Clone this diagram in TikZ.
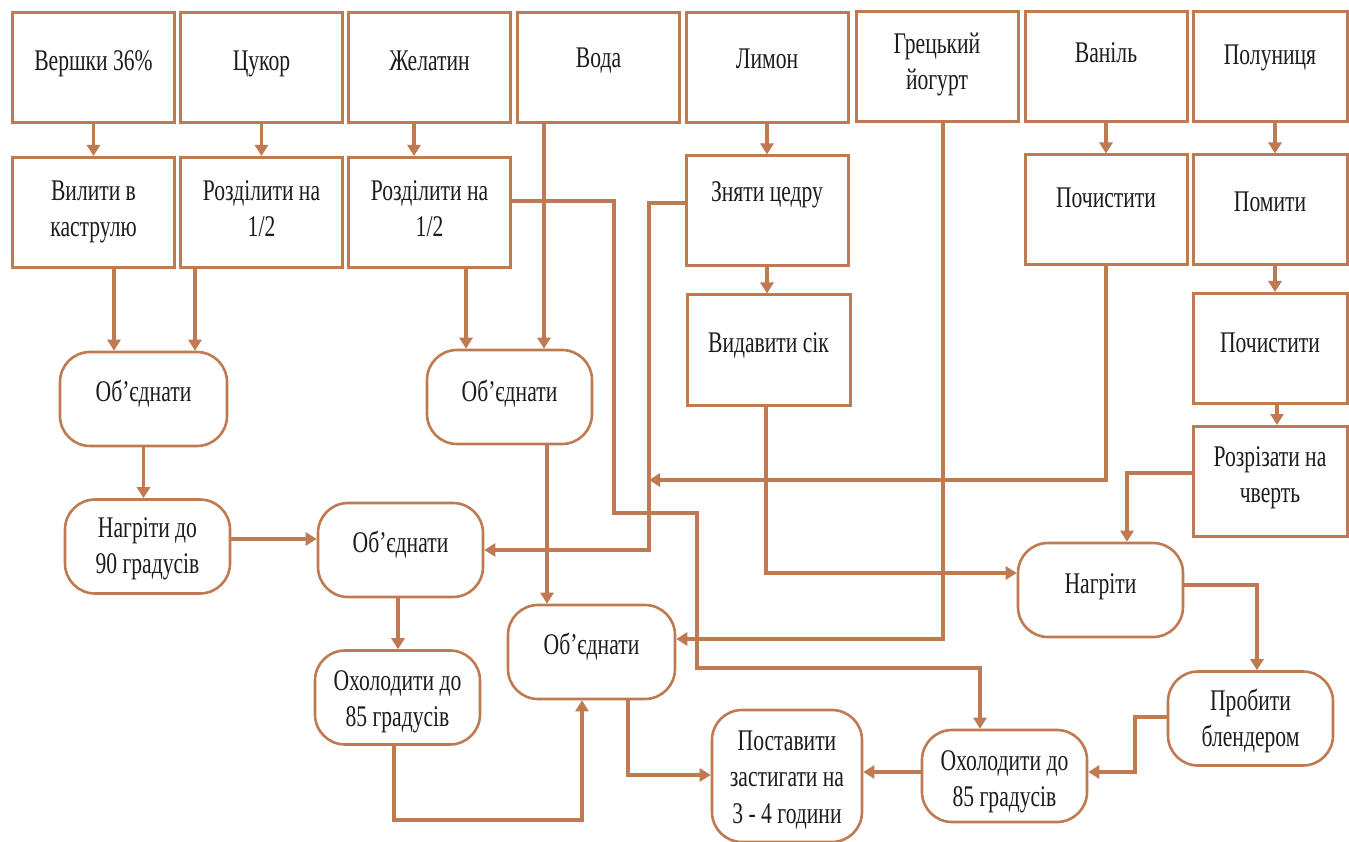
\documentclass[tikz,border=0pt]{standalone}
\usepackage{fontspec}
\setmainfont{Liberation Serif}[FakeStretch=0.72]
\usetikzlibrary{arrows.meta}
\definecolor{ln}{RGB}{192,122,82}
\definecolor{tx}{RGB}{28,28,28}
\newcommand{\tfont}{\fontsize{30}{36.5}\selectfont}
\begin{document}
\begin{tikzpicture}[x=1pt,y=-1pt,
  box/.style={draw=ln, line width=3pt, minimum width=162pt, minimum height=110pt, inner sep=0pt},
  rbox/.style={draw=ln, line width=2.6pt, rounded corners=30pt, minimum width=165pt, minimum height=94pt, inner sep=0pt},
  lbl/.style={anchor=north, inner sep=0pt, align=center, font=\tfont, text=tx},
  con/.style={draw=ln, line width=3.4pt, -{Triangle[length=11pt,width=13pt]}},
  thk/.style={con, line width=4.6pt}]
\useasboundingbox (0,0) rectangle (1349,842);
\fill[white] (0,0) rectangle (1349,842);
% top row
\node[box] (t1) at (93.5,68) {};
\node[box] (t2) at (261.5,68) {};
\node[box] (t3) at (429.5,68) {};
\node[box] (t4) at (598.5,68) {};
\node[box] (t5) at (767,68) {};
\node[box] (t6) at (937,67) {};
\node[box] (t7) at (1106,67) {};
\node[box, minimum width=154pt] (t8) at (1270,67) {};
% second row
\node[box] (s1) at (93.5,212.5) {};
\node[box] (s2) at (261.5,212.5) {};
\node[box] (s3) at (429.5,212.5) {};
\node[box] (s5) at (767,211) {};
\node[box] (s7) at (1106,210) {};
\node[box, minimum width=154pt] (s8) at (1270,210) {};
% third row
\node[box, minimum width=163pt] (v) at (768.5,350) {};
\node[box, minimum width=154pt] (p2) at (1270,348.5) {};
\node[box, minimum width=154pt] (r) at (1270,481.5) {};
% rounded
\node[rbox, minimum width=167pt] (o1) at (143.5,399) {};
\node[rbox] (n90) at (147.5,546.5) {};
\node[rbox] (o2) at (400.5,550) {};
\node[rbox] (ow) at (509.5,397) {};
\node[rbox] (hl) at (397.5,697.5) {};
\node[rbox, minimum width=167pt] (ob) at (591.5,652) {};
\node[rbox] (nr) at (1100.5,590) {};
\node[rbox] (pb) at (1250.5,718.5) {};
\node[rbox, minimum height=92pt] (hr) at (1004.5,776) {};
\node[rbox, minimum width=150pt, minimum height=132pt] (ps) at (787,776) {};
% labels
\node[lbl] (t1l) at (93.5,44.5) {\strut Вершки 36\%};
\node[lbl] (t2l) at (261.5,44.5) {\strut Цукор};
\node[lbl] (t3l) at (429.5,44.5) {\strut Желатин};
\node[lbl] (t4l) at (598.5,41.5) {\strut Вода};
\node[lbl] (t5l) at (767,42.5) {\strut Лимон};
\node[lbl] (t6l) at (937,27.5) {\strut Грецький\\йогурт};
\node[lbl] (t7l) at (1106,36.5) {\strut Ваніль};
\node[lbl] (t8l) at (1270,38.5) {\strut Полуниця};
\node[lbl] (s1l) at (93.5,174.5) {\strut Вилити в\\каструлю};
\node[lbl] (s2l) at (261.5,174.5) {\strut Розділити на\\1/2};
\node[lbl] (s3l) at (429.5,174.5) {\strut Розділити на\\1/2};
\node[lbl] (s5l) at (767,175.5) {\strut Зняти цедру};
\node[lbl] (s7l) at (1106,181.5) {\strut Почистити};
\node[lbl] (s8l) at (1270,185.5) {\strut Помити};
\node[lbl] (vl) at (768.5,326.5) {\strut Видавити сік};
\node[lbl] (p2l) at (1270,326.5) {\strut Почистити};
\node[lbl] (rl) at (1270,440.5) {\strut Розрізати на\\чверть};
\node[lbl] (o1l) at (143.5,375.5) {\strut Об'єднати};
\node[lbl] (owl) at (509.5,375.5) {\strut Об'єднати};
\node[lbl] (n90l) at (147.5,511.5) {\strut Нагріти до\\90 градусів};
\node[lbl] (o2l) at (400.5,526.5) {\strut Об'єднати};
\node[lbl] (hll) at (397.5,664.5) {\strut Охолодити до\\85 градусів};
\node[lbl] (obl) at (591.5,628.5) {\strut Об'єднати};
\node[lbl] (nrl) at (1100.5,567.5) {\strut Нагріти};
\node[lbl] (pbl) at (1250.5,684.5) {\strut Пробити\\блендером};
\node[lbl] (hrl) at (1004.5,744.5) {\strut Охолодити до\\85 градусів};
\node[lbl] (psl) at (787,724.5) {\strut Поставити\\застигати на\\3 - 4 години};
% connectors
\draw[con] (t1.south) -- (s1.north);
\draw[con] (t2.south) -- (s2.north);
\draw[con] ([xshift=-15.5pt]t3.south) -- ([xshift=-15.5pt]s3.north);
\draw[con] ([xshift=-54.5pt]t4.south) -- ([xshift=-54.5pt]t4.south |- ow.north);
\draw[con] (t5.south) -- (s5.north);
\draw[con] (s5.south) -- (s5.south |- v.north);
\draw[con] (t7.south) -- (s7.north);
\draw[con] ([xshift=5pt]t8.south) -- ([xshift=5pt]s8.north);
\draw[con] ([xshift=5pt]s8.south) -- ([xshift=5pt]p2.north);
\draw[con] ([xshift=7pt]p2.south) -- ([xshift=7pt]r.north);
\draw[con] ([xshift=20.5pt]s1.south) -- ([xshift=20.5pt]s1.south |- o1.north);
\draw[con] ([xshift=-66.5pt]s2.south) -- ([xshift=-66.5pt]s2.south |- o1.north);
\draw[con] ([xshift=36.5pt]s3.south) -- ([xshift=36.5pt]s3.south |- ow.north);
\draw[con] ([yshift=11.5pt]s3.east) -- (614,201) -- (614,513) -- (697,513) -- (697,668) -- (980,668) -- (hr.north -| 980,0);
\draw[con] ([yshift=8pt]s5.west) -- (649,203) |- (o2.east);
\draw[con] (s7.south) |- (649,480);
\draw[con] ([xshift=-2.5pt]v.south) |- ([yshift=17pt]nr.west);
\draw[con] ([yshift=8.5pt]r.west) -| ([xshift=26.5pt]nr.north);
\draw[con] ([yshift=5pt]nr.east) -| ([xshift=6.5pt]pb.north);
\draw[con] ([yshift=1.5pt]pb.west) -- (1135,717) |- ([yshift=4pt]hr.east);
\draw[thk] ([yshift=4pt]hr.west) -- ([yshift=4pt]hr.west -| ps.east);
\draw[con] ([xshift=6pt]t6.south) |- ([yshift=13pt]ob.east);
\draw[con] (o1.south) -- (o1.south |- n90.north);
\draw[thk] ([yshift=7.5pt]n90.east) -- ([yshift=7.5pt]n90.east -| o2.west);
\draw[con] ([xshift=37.5pt]ow.south) -- ([xshift=37.5pt]ow.south |- ob.north);
\draw[con] ([xshift=-2.5pt]o2.south) -- ([xshift=-2.5pt]o2.south |- hl.north);
\draw[thk] ([xshift=-3.5pt]hl.south) -- (394,820) -| ([xshift=-9.5pt]ob.south);
\draw[thk] ([xshift=36.5pt]ob.south) |- ([yshift=1pt]ps.west);
\end{tikzpicture}
\end{document}
